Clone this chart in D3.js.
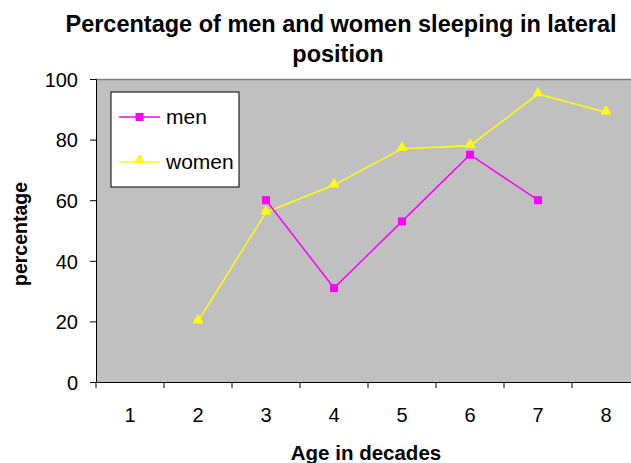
<!DOCTYPE html>
<html>
<head>
<meta charset="utf-8">
<title>Lateral sleeping position</title>
<script src="https://d3js.org/d3.v7.min.js"></script>
<style>
	body { margin: 0; background: #fff; }
	text { font-family: "Liberation Sans", Arial, sans-serif; fill: #000; }
</style>
</head>
<body>
<svg id="chart" width="631" height="463"></svg>
<script>
	var decades = ["1", "2", "3", "4", "5", "6", "7", "8"];
	var men = [null, null, 60, 31, 53, 75, 60, null];
	var women = [null, 20, 56, 65, 77, 78, 95, 89];
	var yTicks = [0, 20, 40, 60, 80, 100];

	var svg = d3.select("#chart");
	var margin = { left: 96, top: 79 };
	var w = 544, h = 303;

	var x = d3.scaleBand().domain(decades).range([0, w]);
	var y = d3.scaleLinear().domain([0, 100]).range([h, 0]);

	var g = svg.append("g").attr("transform", "translate(" + margin.left + "," + margin.top + ")");

	g.append("rect").attr("width", w).attr("height", h).attr("fill", "#c0c0c0");
	g.append("line").attr("x1", 0).attr("x2", w).attr("y1", 0.5).attr("y2", 0.5)
		.attr("stroke", "#808080").attr("stroke-width", 1.5);

	// axes
	var yAxis = g.append("g").call(d3.axisLeft(y).tickValues(yTicks).tickSize(6).tickPadding(12));
	yAxis.selectAll("text").style("font-size", "20px").attr("dy", "0.36em");
	yAxis.select(".domain").attr("stroke", "#000");

	var xAxis = g.append("g").attr("transform", "translate(0," + h + ")")
		.call(d3.axisBottom(x).tickSize(0).tickPadding(26));
	xAxis.selectAll("text").style("font-size", "20px");
	xAxis.select(".domain").attr("d", "M0,0.5H" + w).attr("stroke", "#000");
	// tick marks at category boundaries
	xAxis.selectAll(".bnd").data(decades).enter().append("line")
		.attr("x1", function (d) { return x(d); }).attr("x2", function (d) { return x(d); })
		.attr("y1", 0).attr("y2", 6).attr("stroke", "#000");

	var cx = function (i) { return x(decades[i]) + x.bandwidth() / 2; };
	var line = d3.line()
		.defined(function (d) { return d != null; })
		.x(function (d, i) { return cx(i); })
		.y(function (d) { return y(d); });

	g.append("path").datum(women).attr("d", line).attr("fill", "none")
		.attr("stroke", "#ffff00").attr("stroke-width", 1.5);
	g.append("path").datum(men).attr("d", line).attr("fill", "none")
		.attr("stroke", "#ff00ff").attr("stroke-width", 1.5);

	var tri = d3.symbol().type(d3.symbolTriangle).size(52);
	var womenPts = women.map(function (d, i) { return [i, d]; }).filter(function (p) { return p[1] != null; });
	var menPts = men.map(function (d, i) { return [i, d]; }).filter(function (p) { return p[1] != null; });

	g.selectAll(".tw").data(womenPts).enter().append("path")
		.attr("d", tri)
		.attr("transform", function (p) { return "translate(" + cx(p[0]) + "," + (y(p[1]) - 1) + ")"; })
		.attr("fill", "#ffff00");
	g.selectAll(".sm").data(menPts).enter().append("rect")
		.attr("x", function (p) { return cx(p[0]) - 4; })
		.attr("y", function (p) { return y(p[1]) - 4; })
		.attr("width", 8).attr("height", 8).attr("fill", "#ff00ff");

	// legend
	var lg = svg.append("g").attr("transform", "translate(111,92)");
	lg.append("rect").attr("width", 128).attr("height", 95).attr("fill", "#fff").attr("stroke", "#000");
	lg.append("line").attr("x1", 8).attr("x2", 49).attr("y1", 25).attr("y2", 25).attr("stroke", "#ff00ff").attr("stroke-width", 1.5);
	lg.append("rect").attr("x", 24.5).attr("y", 21).attr("width", 8).attr("height", 8).attr("fill", "#ff00ff");
	lg.append("text").attr("x", 55).attr("y", 32).style("font-size", "21px").text("men");
	lg.append("line").attr("x1", 8).attr("x2", 49).attr("y1", 70).attr("y2", 70).attr("stroke", "#ffff00").attr("stroke-width", 1.5);
	lg.append("path").attr("d", tri).attr("transform", "translate(28.5,68)").attr("fill", "#ffff00");
	lg.append("text").attr("x", 55).attr("y", 77).style("font-size", "21px").text("women");

	// titles
	svg.append("text").attr("x", 341).attr("y", 32).attr("text-anchor", "middle")
		.style("font-size", "23.5px").style("font-weight", "bold")
		.text("Percentage of men and women sleeping in lateral");
	svg.append("text").attr("x", 338).attr("y", 62).attr("text-anchor", "middle")
		.style("font-size", "23.5px").style("font-weight", "bold").text("position");
	svg.append("text").attr("x", 366).attr("y", 460).attr("text-anchor", "middle")
		.style("font-size", "20.5px").style("font-weight", "bold").text("Age in decades");
	svg.append("text").attr("transform", "translate(27,234) rotate(-90)").attr("text-anchor", "middle")
		.style("font-size", "19.5px").style("font-weight", "bold").text("percentage");
</script>
</body>
</html>
